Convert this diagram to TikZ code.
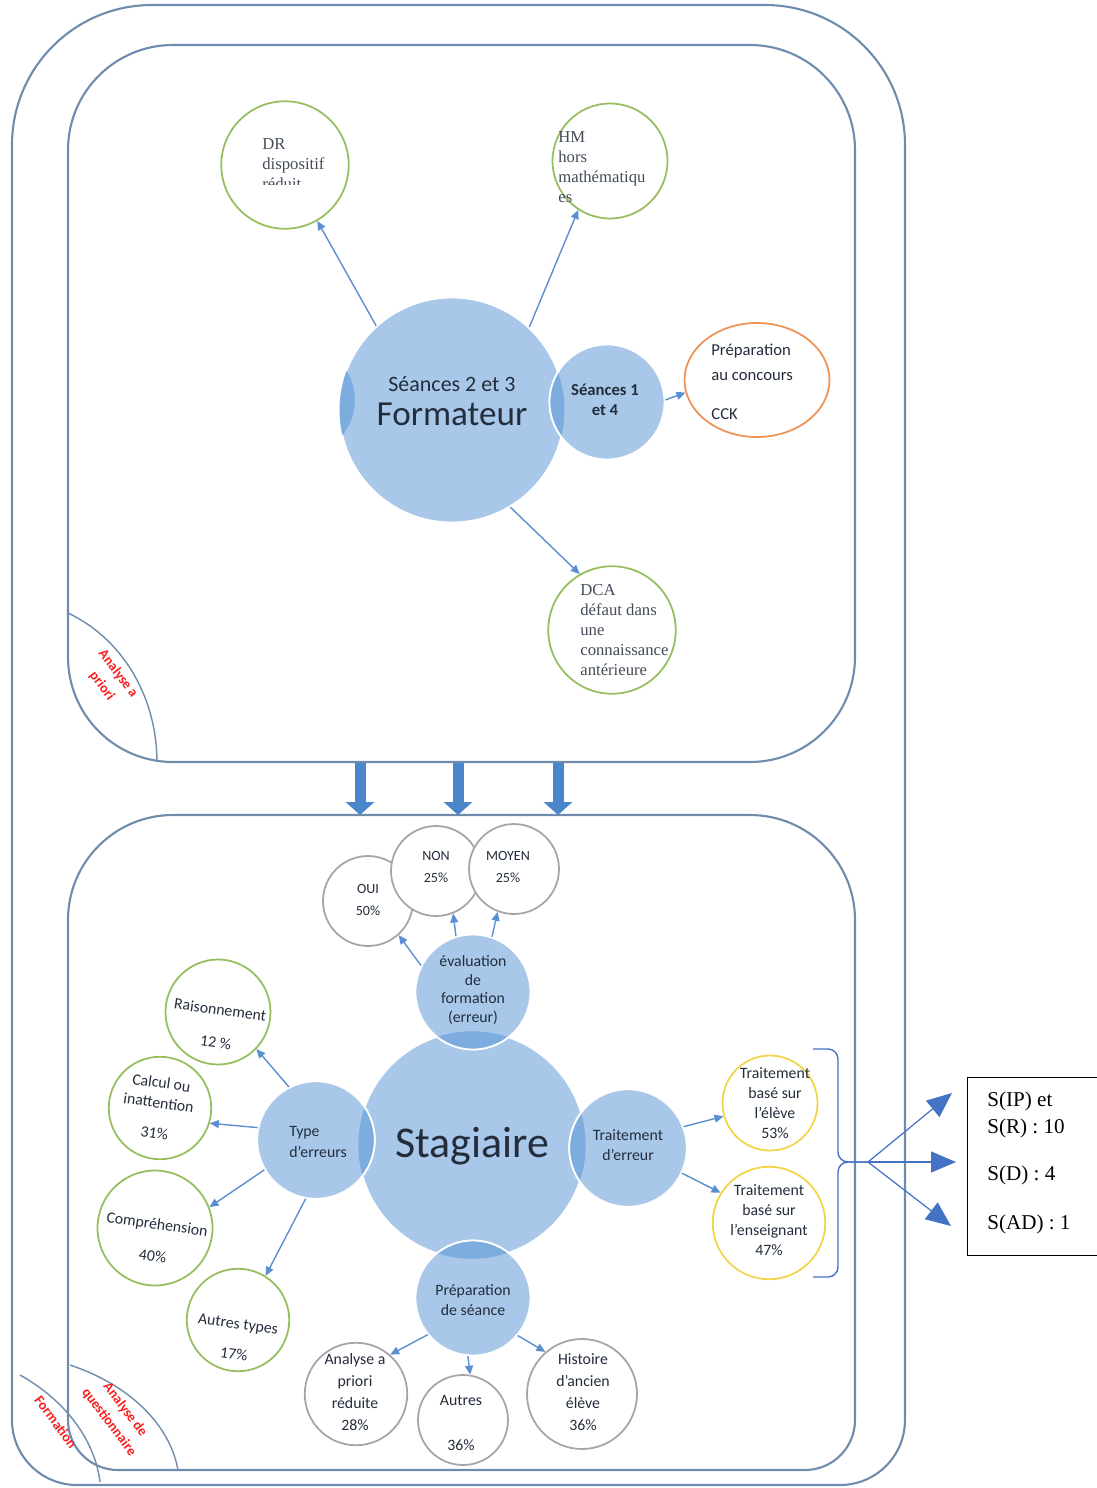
\documentclass[tikz,border=0pt]{standalone}
\usepackage{fontspec}
\setmainfont{Carlito}
\newfontfamily\timesf{Liberation Serif}
\usepackage{tikz}
\usetikzlibrary{positioning, arrows.meta, shapes.geometric}

\definecolor{bubble}{RGB}{169,200,233}
\definecolor{lensb}{RGB}{125,172,222}
\definecolor{arrowb}{RGB}{91,143,207}
\definecolor{frameb}{RGB}{112,140,172}
\definecolor{greenb}{RGB}{150,190,95}
\definecolor{orangeb}{RGB}{240,145,85}
\definecolor{yellowb}{RGB}{242,212,75}
\definecolor{grayb}{RGB}{165,165,165}
\definecolor{bracketb}{RGB}{68,114,196}
\definecolor{blockb}{RGB}{74,134,202}
\definecolor{labred}{RGB}{250,30,30}
\definecolor{ink}{RGB}{35,45,60}

\begin{document}
\begin{tikzpicture}[x=0.02cm, y=-0.02cm,
  boxline/.style={draw=frameb, line width=1.2pt},
  hub/.style={circle, fill=bubble, draw=white, line width=1pt, inner sep=0pt},
  sat/.style={circle, draw=#1, line width=1pt, fill=white, inner sep=0pt},
  txt/.style={align=center, inner sep=0pt, text=ink, font=\fontsize{9}{11.5}\selectfont},
  smalltxt/.style={align=center, inner sep=0pt, text=ink, font=\fontsize{8}{12.5}\selectfont},
  seriftxt/.style={align=left, inner sep=0pt, text=ink!85, font=\timesf\fontsize{9.5}{11.4}\selectfont},
  redtag/.style={align=center, inner sep=0pt, text=labred, font=\bfseries\fontsize{8}{11.5}\selectfont, rotate=-53},
  arr/.style={-{Triangle[length=1.8mm, width=1.6mm]}, draw=arrowb, line width=0.8pt},
  blockdown/.style={-{Triangle[length=0.26cm, width=0.56cm]}, draw=blockb, line width=0.22cm},
  fan/.style={-{Triangle[length=0.5cm, width=0.42cm]}, draw=bracketb, line width=0.7pt},
  lens/.style={fill=lensb}
]
  \useasboundingbox (0,0) rectangle (1096,1488);

  % frames
  \draw[boxline] (12,760) [rounded corners=2.8cm] -- (12,5) -- (905,5) -- (905,760)
    [rounded corners=1.3cm] -- (905,1485) -- (12,1485) -- cycle;
  \draw[boxline, rounded corners=2.1cm] (68,45) rectangle (855,762);
  \draw[boxline] (68,1100) [rounded corners=2.1cm] -- (68,815) -- (855,815) -- (855,1100)
    [rounded corners=1cm] -- (855,1470) -- (68,1470) -- cycle;

  % corner labels
  \draw[boxline, line width=0.8pt] (68,613) .. controls (125,640) and (157,700) .. (157,762);
  \draw[boxline, line width=0.8pt] (70,1365) .. controls (130,1385) and (170,1425) .. (178,1470);
  \draw[boxline, line width=0.8pt] (20,1375) .. controls (65,1400) and (95,1440) .. (100,1482);
  \node[redtag] (tapr) at (110,680) {Analyse a\\priori};
  \node[redtag] (tform) at (56,1422) {Formation};
  \node[redtag] (tquest) at (117,1416) {Analyse de\\questionnaire};

  \foreach \x [count=\i] in {360,458,558} {
    \coordinate (up\i) at (\x,763);
    \coordinate (lo\i) at (\x,815);
    \draw[blockdown] (up\i) -- (lo\i);
  }

  % formateur
  \node[hub, minimum size=4.5cm] (form) at (452,410) {};
  \node[hub, minimum size=2.3cm] (sea14) at (607,402) {};
  \begin{scope}
    \clip (form) circle (2.25cm);
    \fill[lens] (300,400) circle (1.1cm);
    \fill[lens] (sea14) circle (1.15cm);
    \draw[white, line width=1pt] (sea14) circle (1.15cm);
  \end{scope}
  \node[txt, font=\fontsize{12.5}{15}\selectfont] (form-a) at (452,384) {Séances 2 et 3};
  \node[txt, font=\fontsize{20}{24}\selectfont] (form-b) at (452,414) {Formateur};
  \node[txt, font=\bfseries\fontsize{9.5}{11.5}\selectfont] (sea14-t) at (605,400) {Séances 1\\et 4};

  \node[sat=greenb, minimum size=2.55cm] (dr) at (285,165) {};
  \node[sat=greenb, minimum size=2.3cm] (hm) at (610,161) {};
  \node[sat=greenb, minimum size=2.55cm] (dca) at (612,630) {};
  \node[ellipse, draw=orangeb, line width=1pt, inner sep=0pt, minimum width=2.9cm, minimum height=2.28cm] (cck) at (757,380) {};

  \begin{scope}
    \clip (240,120) rectangle (340,184);
    \node[seriftxt, anchor=north west] (dr-t) at (262,138) {DR\\dispositif\\réduit};
  \end{scope}
  \node[seriftxt, anchor=north west] (hm-t) at (558,131) {HM\\hors\\mathématiqu\\es};
  \node[seriftxt, anchor=north west] (dca-t) at (580,584) {DCA\\défaut dans\\une\\connaissance\\antérieure};
  \node[txt, align=left, font=\fontsize{9.5}{14}\selectfont, anchor=north west] (cck-t) at (711,344) {Préparation\\au concours\\[8pt]CCK};

  \draw[arr] (form.132) -- (dr.-60);
  \draw[arr] (form.47) -- (hm.237);
  \draw[arr] (sea14.2) -- (cck.190);
  \draw[arr] (form.-59) -- (dca.120);

  % stagiaire
  \node[hub, minimum size=4.55cm] (stag) at (472,1145) {};
  \node[hub, minimum size=2.3cm] (evalf) at (473,992) {};
  \node[hub, minimum size=2.35cm] (typerr) at (316,1140) {};
  \node[hub, minimum size=2.35cm] (traiterr) at (628,1148) {};
  \node[hub, minimum size=2.3cm] (prepsea) at (473,1298) {};
  \begin{scope}
    \clip (stag) circle (2.275cm);
    \fill[lens] (evalf) circle (1.15cm);
    \fill[lens] (typerr) circle (1.175cm);
    \fill[lens] (traiterr) circle (1.175cm);
    \fill[lens] (prepsea) circle (1.15cm);
    \draw[white, line width=1pt] (evalf) circle (1.15cm) (typerr) circle (1.175cm)
      (traiterr) circle (1.175cm) (prepsea) circle (1.15cm);
  \end{scope}
  \node[txt, font=\fontsize{25}{30}\selectfont] (stag-t) at (472,1146) {Stagiaire};
  \node[txt, font=\fontsize{9}{10.6}\selectfont] (evalf-t) at (473,990) {évaluation\\de\\formation\\(erreur)};
  \node[txt, align=left] (typerr-t) at (318,1142) {Type\\d'erreurs};
  \node[txt] (traiterr-t) at (628,1145) {Traitement\\d'erreur};
  \node[txt] (prepsea-t) at (473,1300) {Préparation\\de séance};

  \node[sat=grayb, minimum size=1.8cm] (oui) at (368,901) {};
  \node[sat=grayb, minimum size=1.8cm] (non) at (436,871) {};
  \node[sat=grayb, minimum size=1.8cm] (moyen) at (514,869) {};
  \node[smalltxt] (oui-t) at (368,900) {OUI\\50\%};
  \node[smalltxt] (non-t) at (436,867) {NON\\25\%};
  \node[smalltxt] (moyen-t) at (508,867) {MOYEN\\25\%};

  \node[sat=greenb, minimum size=2.1cm] (rais) at (218,1012) {};
  \node[sat=greenb, minimum size=2.05cm] (calc) at (160,1108) {};
  \node[sat=greenb, minimum size=2.3cm] (compr) at (155,1228) {};
  \node[sat=greenb, minimum size=2.05cm] (autty) at (238,1320) {};
  \node[txt, rotate=-8] (rais-t) at (218,1026) {Raisonnement\\[7pt]12 \%};
  \node[txt, rotate=-8] (calc-t) at (158,1108) {Calcul ou\\inattention\\[6pt]31\%};
  \node[txt, rotate=-8] (compr-t) at (155,1240) {Compréhension\\[7pt]40\%};
  \node[txt, rotate=-8] (autty-t) at (236,1339) {Autres types\\[6pt]17\%};

  \node[sat=yellowb, minimum size=1.9cm] (televe) at (770,1103) {};
  \node[sat=yellowb, minimum size=2.25cm] (tens) at (769,1223) {};
  \node[txt] (televe-t) at (775,1103) {Traitement\\basé sur\\l'élève\\53\%};
  \node[txt] (tens-t) at (769,1220) {Traitement\\basé sur\\l'enseignant\\47\%};

  \node[sat=grayb, minimum size=2.05cm] (apr) at (356,1394) {};
  \node[sat=grayb, minimum size=1.8cm] (autres) at (463,1420) {};
  \node[sat=grayb, minimum size=2.2cm] (hist) at (582,1394) {};
  \node[txt, font=\fontsize{9}{12.5}\selectfont] (apr-t) at (355,1392) {Analyse a\\priori\\réduite\\28\%};
  \node[txt] (autres-t) at (461,1423) {Autres\\[14pt]36\%};
  \node[txt, font=\fontsize{9}{12.5}\selectfont] (hist-t) at (583,1392) {Histoire\\d'ancien\\élève\\36\%};

  \draw[arr] (evalf.153) -- (oui.-48);
  \draw[arr] (evalf.107) -- (non.-68);
  \draw[arr] (evalf.71) -- (moyen.-111);
  \draw[arr] (typerr.117) -- (rais.-44);
  \draw[arr] (typerr.168) -- (calc.-17);
  \draw[arr] (typerr.210) -- (compr.21);
  \draw[arr] (typerr.260) -- (autty.58);
  \draw[arr] (traiterr.21) -- (televe.196);
  \draw[arr] (traiterr.-25) -- (tens.148);
  \draw[arr] (prepsea.219) -- (apr.49);
  \draw[arr] (prepsea.265) -- (autres.81);
  \draw[arr] (prepsea.-40) -- (hist.131);

  % bracket and summary
  \coordinate (bt) at (868,1162);
  \draw[bracketb, line width=0.8pt, rounded corners=0.2cm] (813,1049) -- (838,1049) -- (838,1162) -- (bt);
  \draw[bracketb, line width=0.8pt, rounded corners=0.2cm] (813,1277) -- (838,1277) -- (838,1162) -- (bt);
  \node[draw=black, line width=0.8pt, inner sep=0pt, minimum width=2.6cm, minimum height=3.56cm, anchor=north west] (res) at (967,1077) {};
  \node[anchor=north west, align=left, inner sep=0pt, font=\timesf\fontsize{12}{15}\selectfont] (sipr) at (987,1092) {S(IP) et\\S(R) : 10};
  \node[anchor=west, inner sep=0pt, font=\timesf\fontsize{12}{15}\selectfont] (sd) at (987,1175) {S(D) : 4};
  \node[anchor=west, inner sep=0pt, font=\timesf\fontsize{12}{15}\selectfont] (sad) at (987,1224) {S(AD) : 1};
  \coordinate (f1) at (952,1093);
  \coordinate (f2) at (956,1162);
  \coordinate (f3) at (951,1226);
  \draw[fan] (bt) -- (f1);
  \draw[fan] (bt) -- (f2);
  \draw[fan] (bt) -- (f3);
\end{tikzpicture}
\end{document}
